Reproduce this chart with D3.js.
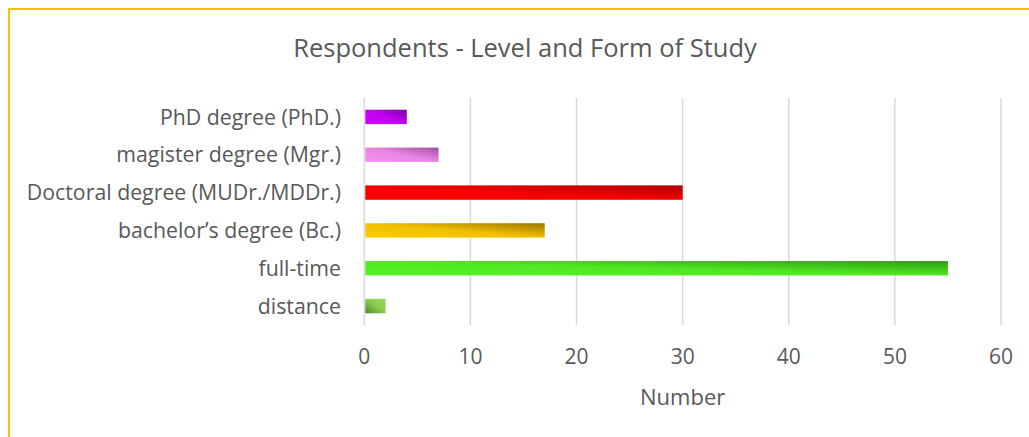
<!DOCTYPE html>
<html>
<head>
<meta charset="utf-8">
<script src="https://cdn.jsdelivr.net/npm/d3@7"></script>
<style>
  body { margin: 0; background: #fff; }
  svg text { font-family: "Open Sans", sans-serif; fill: #595959; }
</style>
</head>
<body>
<svg class="studyChart"></svg>
<script>
// categories top to bottom, as they appear in the chart
const categories = [
  "PhD degree (PhD.)",
  "magister degree (Mgr.)",
  "Doctoral degree (MUDr./MDDr.)",
  "bachelor\u2019s degree (Bc.)",
  "full-time",
  "distance"
];
const counts = [4, 7, 30, 17, 55, 2];
const xTicks = [0, 10, 20, 30, 40, 50, 60];
// [light, dark] end of each bar's gradient
const barColors = [
  ["#d000ff", "#7800a0"],
  ["#f590f0", "#a050a0"],
  ["#ff0000", "#b00000"],
  ["#ffcc00", "#9c7400"],
  ["#55f525", "#2e9a10"],
  ["#95d555", "#4a8a2a"]
];
// distance bar has its dark corner bottom-left instead of top-right
const reversed = [false, false, false, false, false, true];

const width = 1029, height = 437;
const plotTop = 98, plotBottom = 325;

const svg = d3.select("svg.studyChart")
  .attr("width", width)
  .attr("height", height);

// yellow frame, runs off the right and bottom edge
svg.append("rect")
  .attr("x", 9).attr("y", 9)
  .attr("width", width + 20).attr("height", height + 20)
  .attr("fill", "none")
  .attr("stroke", "#ffc000")
  .attr("stroke-width", 2);

const x = d3.scaleLinear().domain([0, 60]).range([364.3, 1001]);
const y = d3.scaleBand()
  .domain(categories)
  .range([plotTop, plotBottom])
  .paddingInner(0.62)
  .paddingOuter(0.31);

const defs = svg.append("defs");
barColors.forEach((c, i) => {
  const r = reversed[i];
  const g = defs.append("linearGradient")
    .attr("id", "grad" + i)
    .attr("x1", r ? 1 : 0).attr("y1", r ? 0 : 1)
    .attr("x2", r ? 0 : 1).attr("y2", r ? 1 : 0);
  g.append("stop").attr("offset", 0).attr("stop-color", c[0]);
  g.append("stop").attr("offset", 0.5).attr("stop-color", d3.interpolateRgb(c[0], c[1])(0.15));
  g.append("stop").attr("offset", 1).attr("stop-color", c[1]);
});

// gridlines
svg.append("g")
  .selectAll("line")
  .data(xTicks)
  .join("line")
  .attr("x1", d => x(d)).attr("x2", d => x(d))
  .attr("y1", plotTop).attr("y2", plotBottom)
  .attr("stroke", "#d9d9d9")
  .attr("stroke-width", 1.5);

svg.append("g")
  .selectAll("rect")
  .data(counts)
  .join("rect")
  .attr("x", x(0) + 1)
  .attr("y", (d, i) => y(categories[i]))
  .attr("width", d => x(d) - x(0) - 1)
  .attr("height", y.bandwidth())
  .attr("fill", (d, i) => `url(#grad${i})`);

// category labels
svg.append("g")
  .selectAll("text")
  .data(categories)
  .join("text")
  .attr("x", 341)
  .attr("y", d => y(d) + y.bandwidth() / 2)
  .attr("dy", "0.36em")
  .attr("text-anchor", "end")
  .style("font-size", "21.3px")
  .text(d => d);

// tick labels
svg.append("g")
  .selectAll("text")
  .data(xTicks)
  .join("text")
  .attr("x", d => x(d))
  .attr("y", 364)
  .attr("text-anchor", "middle")
  .style("font-size", "21px")
  .text(d => d);

svg.append("text")
  .attr("x", (x(0) + x(60)) / 2)
  .attr("y", 405)
  .attr("text-anchor", "middle")
  .style("font-size", "22px")
  .text("Number");

svg.append("text")
  .attr("x", 525)
  .attr("y", 57)
  .attr("text-anchor", "middle")
  .style("font-size", "25.5px")
  .text("Respondents - Level and Form of Study");
</script>
</body>
</html>
